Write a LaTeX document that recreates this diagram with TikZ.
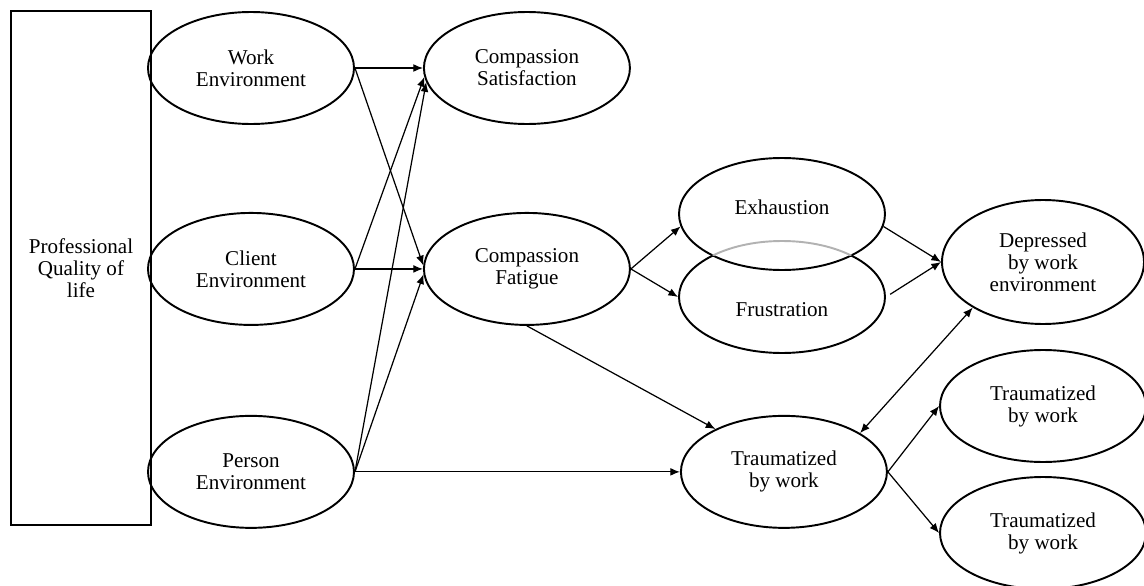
\documentclass[tikz,border=0pt]{standalone}
\usepackage{fontspec}
\setmainfont{Liberation Serif}
\usetikzlibrary{arrows.meta,positioning,shapes.geometric}

\begin{document}
\begin{tikzpicture}[
    font=\fontsize{12}{12.5}\selectfont,
    oval/.style={draw, ellipse, line width=1.1pt, align=center, inner sep=0pt, minimum width=4.12cm, minimum height=2.24cm},
    frame/.style={draw, line width=1.1pt, align=center, minimum width=2.8cm, minimum height=10.28cm},
    arrow/.style={-{Latex[length=5.5pt,width=4.5pt]}, line width=0.7pt},
    both/.style={{Latex[length=5.5pt,width=4.5pt]}-{Latex[length=5.5pt,width=4.5pt]}, line width=0.7pt}
]
\useasboundingbox (0,0) rectangle (22.88,-11.72);
\node[frame] (pqol) at (1.62,-5.36) {Professional\\Quality of\\life};
\node[oval] (work) at (5.02,-1.36) {Work\\Environment};
\node[oval, below=1.74cm of work] (client) {Client\\Environment};
\node[oval, below=1.78cm of client] (person) {Person\\Environment};
\node[oval, right=1.36cm of work] (cs) {Compassion\\Satisfaction};
\node[oval, right=1.36cm of client] (cf) {Compassion\\Fatigue};
\node[oval, right=6.5cm of person] (trauma) {Traumatized\\by work};
\node[oval, label={[yshift=0.14cm]center:Exhaustion}] (exh) at (15.64,-4.28) {};
\node[oval, draw=none, label={[yshift=-0.26cm]center:Frustration}] (fru) at (15.64,-5.94) {};
\node[oval, minimum width=4.04cm, minimum height=2.48cm] (dep) at (20.86,-5.24) {Depressed\\by work\\environment};
\node[oval] (t1) at (20.86,-8.12) {Traumatized\\by work};
\node[oval] (t2) at (20.86,-10.66) {Traumatized\\by work};

% frustration outline, grey where it runs inside exhaustion
\begin{scope}[even odd rule]
  \clip (13,-2.8) rectangle (18.3,-7.4) (exh.center) ellipse [x radius=2.06cm, y radius=1.12cm];
  \draw[line width=1.1pt] (fru.center) ellipse [x radius=2.06cm, y radius=1.12cm];
\end{scope}
\begin{scope}
  \clip (exh.center) ellipse [x radius=2.06cm, y radius=1.12cm];
  \draw[gray!60, line width=1.1pt] (fru.center) ellipse [x radius=2.06cm, y radius=1.12cm];
\end{scope}

\draw[arrow] (work.east) -- (cs.west);
\draw[arrow] (work.east) -- (cf.178);
\draw[arrow] (client.east) -- (cs.185);
\draw[arrow] (client.east) -- (cf.west);
\draw[arrow] (person.east) -- (cs.188);
\draw[arrow] (person.east) -- (cf.183);
\draw[arrow] (person.east) -- (trauma.west);
\draw[arrow] (cf.east) -- (exh.187);
\draw[arrow] (cf.east) -- (fru.west);
\draw[arrow] (cf.south) -- (trauma.148);
\draw[arrow] (exh.353) -- (dep.west);
\draw[arrow, shorten <=0.1cm] (fru.east) -- (dep.west);
\draw[both] (dep.213) -- (trauma.27);
\draw[arrow] (trauma.east) -- (t1.west);
\draw[arrow] (trauma.east) -- (t2.west);
\end{tikzpicture}
\end{document}
